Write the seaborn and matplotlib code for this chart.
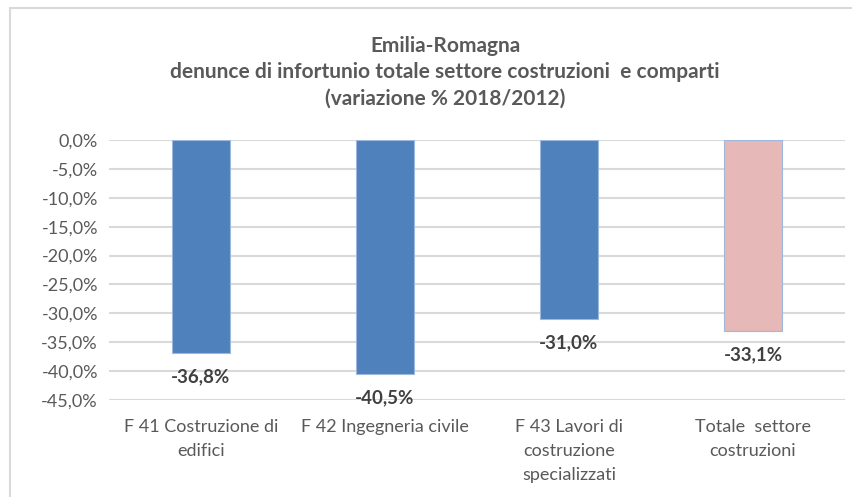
import numpy as np
import pandas as pd
import matplotlib
matplotlib.use("Agg")
import matplotlib.pyplot as plt
import seaborn as sns
from matplotlib.patches import Rectangle
from matplotlib.ticker import FuncFormatter

categories = ["F 41 Costruzione di\nedifici", "F 42 Ingegneria civile",
              "F 43 Lavori di\ncostruzione\nspecializzati", "Totale  settore\ncostruzioni"]
values = [-36.8, -40.5, -31.0, -33.1]
bar_colors = ["#4F81BD", "#4F81BD", "#4F81BD", "#E6B9B8"]
title = "Emilia-Romagna\ndenunce di infortunio totale settore costruzioni  e comparti\n(variazione % 2018/2012)"

sns.set_style("white")
plt.rcParams['font.family'] = ['Lato', 'DejaVu Sans']
text_col = "#595959"

df = pd.DataFrame({"cat": categories, "val": values})

fig = plt.figure(figsize=(8.52, 4.97), dpi=100)
ax = fig.add_axes([109/852, 1 - 400/497, 736/852, 260/497])

sns.barplot(data=df, x="cat", y="val", hue="cat", palette=bar_colors, saturation=1,
            legend=False, width=0.31, ax=ax, zorder=3)
for p in ax.patches:
    p.set_edgecolor("#9DB7DD")
    p.set_linewidth(0.8)

ax.set_ylim(-45, 0)
ax.set_yticks(np.arange(-45, 1, 5))
ax.yaxis.set_major_formatter(FuncFormatter(lambda v, _: f"{v:.1f}%".replace(".", ",")))
ax.grid(axis="y", color="#D9D9D9", linewidth=1.5, zorder=0)
ax.set_xlabel("")
ax.set_ylabel("")
for s in ax.spines.values():
    s.set_visible(False)
ax.tick_params(axis="both", length=0, labelsize=13, labelcolor=text_col)
ax.tick_params(axis="x", pad=14)
ax.tick_params(axis="y", pad=8)
for lbl in ax.get_xticklabels():
    lbl.set_linespacing(1.6)

for i, v in enumerate(values):
    ax.annotate(f"{v:.1f}%".replace(".", ","), (i, v), xytext=(0, -11),
                textcoords="offset points", ha="center", va="top",
                fontsize=13.5, fontweight="bold", color="#404040", annotation_clip=False)

fig.text(445/852, 1 - 72/497, title, ha="center", va="center", fontsize=15,
         fontweight="bold", color=text_col, linespacing=1.4)

fig.patches.append(Rectangle((10/852, -0.1), 1.2, 1 - 8/497 + 0.1, transform=fig.transFigure,
                             fill=False, edgecolor="#D9D9D9", linewidth=1.5))

fig.savefig("out.png", dpi=100)
